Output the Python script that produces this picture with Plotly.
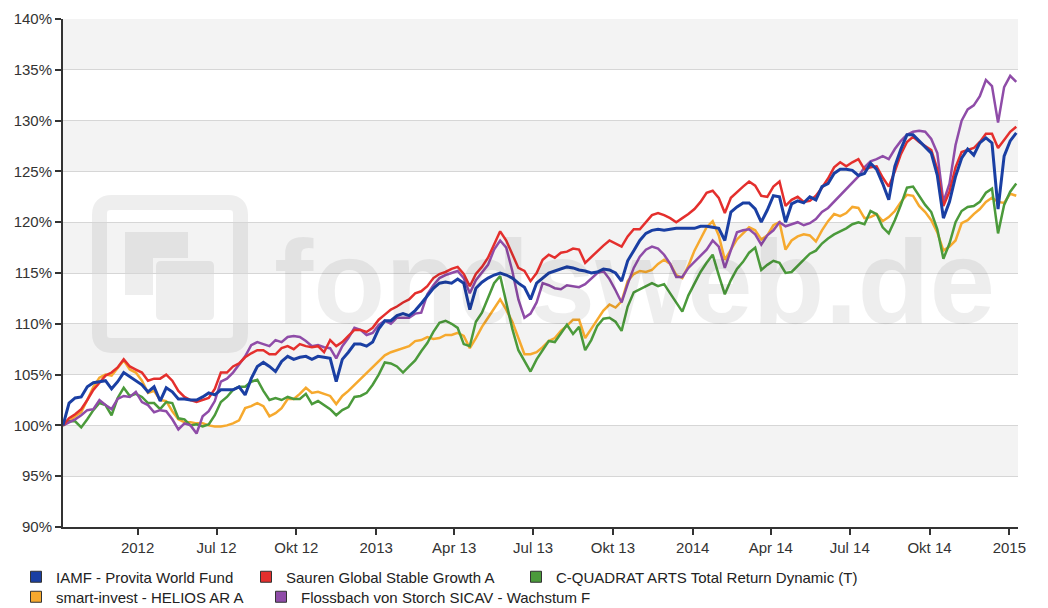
import pandas as pd
import plotly.graph_objects as go

# ---------------- data ----------------
dates = pd.date_range("2012-01-06", periods=158, freq="7D")

names = [
    "IAMF - Provita World Fund",
    "Sauren Global Stable Growth A",
    "C-QUADRAT ARTS Total Return Dynamic (T)",
    "smart-invest - HELIOS AR A",
    "Flossbach von Storch SICAV - Wachstum F",
]

iamf = [
    100.0, 102.2, 102.7, 102.8, 103.8, 104.2, 104.3, 104.4, 103.6, 104.3,
    105.2, 104.8, 104.4, 104.0, 103.3, 103.8, 102.4, 103.7, 103.3, 102.6,
    102.6, 102.5, 102.5, 102.8, 103.2, 103.0, 103.5, 103.5, 103.5, 103.8,
    103.0, 104.6, 105.8, 106.2, 105.8, 105.3, 106.3, 106.8, 106.5, 106.7,
    106.8, 106.5, 106.8, 106.7, 106.6, 104.3, 106.5, 107.2, 108.0, 108.0,
    107.8, 108.2, 109.5, 110.3, 110.3, 110.8, 111.0, 110.8, 111.3, 112.0,
    112.8, 113.5, 114.0, 114.1, 114.0, 114.4, 114.0, 111.4, 113.5, 114.1,
    114.5, 114.8, 115.0, 114.8, 114.5, 114.0, 113.6, 112.4, 114.0, 114.5,
    115.0, 115.2, 115.4, 115.6, 115.5, 115.3, 115.2, 115.0, 115.1, 115.4,
    115.3, 115.0, 114.2, 116.2, 117.2, 118.2, 118.9, 119.2, 119.3, 119.2,
    119.3, 119.4, 119.4, 119.4, 119.4, 119.6, 119.6, 119.5, 119.4, 118.2,
    121.0, 121.5, 121.9, 121.9, 121.3, 120.0, 121.2, 122.6, 122.5, 120.0,
    121.8, 122.1, 121.9, 122.5, 122.2, 123.5, 123.8, 124.8, 125.2, 125.2,
    125.1, 124.6, 124.8, 125.8, 125.2, 123.8, 122.2, 125.5, 127.2, 128.6,
    128.6, 128.0, 127.4, 126.8, 124.6, 120.4, 122.0, 124.5, 126.3, 127.2,
    126.6, 127.8, 128.3, 127.8, 121.3, 126.5, 128.0, 128.8,
]

sauren = [
    100.0, 100.7, 101.1, 101.6, 102.5, 103.5, 104.2, 104.9, 105.2, 105.7,
    106.5, 105.8, 105.5, 105.2, 104.4, 104.6, 104.6, 105.0, 104.4, 103.4,
    102.8, 102.5, 102.3, 102.5, 102.7, 103.6, 105.2, 105.2, 105.8, 106.1,
    106.7, 107.1, 107.4, 107.4, 107.0, 107.0, 107.6, 107.8, 107.5, 108.0,
    107.8, 107.7, 107.8, 107.2, 108.4, 107.8, 108.2, 108.8, 109.4, 109.4,
    109.2, 109.6, 110.4, 110.9, 111.4, 111.7, 112.1, 112.4, 113.0, 113.2,
    113.7, 114.5, 114.9, 115.1, 115.4, 115.6, 114.9, 113.7, 114.9, 115.6,
    116.5, 117.8, 119.1, 118.2, 116.9, 115.5, 115.2, 114.2, 115.0, 116.3,
    116.8, 116.5, 117.0, 117.1, 117.4, 117.3, 116.0, 116.6, 117.1, 117.7,
    118.2, 117.9, 117.6, 118.6, 119.3, 119.3, 120.0, 120.7, 120.9, 120.7,
    120.4, 120.0, 120.4, 120.8, 121.3, 122.0, 122.9, 123.1, 122.4, 120.9,
    122.4, 123.0, 123.5, 124.0, 123.6, 122.6, 122.5, 123.5, 124.0, 121.6,
    122.2, 122.5, 122.0, 122.1, 122.6, 123.4, 124.3, 125.4, 125.9, 125.5,
    125.9, 126.2, 125.2, 125.4, 125.5, 124.4, 123.5, 125.0, 126.7, 127.9,
    128.4, 127.9, 127.5, 127.1, 125.2, 121.6, 123.0, 125.4, 126.9, 127.1,
    127.3, 127.9, 128.7, 128.7, 127.3, 128.1, 128.9, 129.4,
]

cquadrat = [
    100.0, 100.4, 100.4, 99.8, 100.6, 101.5, 102.2, 102.0, 101.0, 102.7,
    103.7, 102.9, 103.1, 102.8, 102.2, 102.2, 101.6, 102.3, 102.2, 100.7,
    100.6, 100.0, 100.1, 99.9, 100.1, 101.0, 102.3, 102.8, 103.5, 103.8,
    103.8, 104.3, 104.5, 103.4, 102.5, 102.7, 102.5, 102.8, 102.6, 102.6,
    103.1, 102.1, 102.4, 102.0, 101.6, 101.0, 101.5, 101.8, 102.8, 102.9,
    103.2, 104.0, 105.0, 106.2, 106.1, 105.8, 105.2, 105.8, 106.4, 107.3,
    108.1, 109.2, 110.1, 110.3, 110.0, 109.6, 108.0, 107.8, 110.2, 111.1,
    112.5, 114.0, 114.7, 112.2, 109.5, 107.4, 106.4, 105.3, 106.5, 107.4,
    108.3, 108.2, 109.1, 109.9, 109.0, 109.7, 107.4, 108.4, 109.8, 110.5,
    110.6, 110.2, 109.3, 111.7, 113.1, 113.4, 113.7, 114.0, 113.7, 113.9,
    113.0, 112.1, 111.2, 112.8, 114.0, 115.1, 116.0, 116.8, 114.8, 112.9,
    114.3, 115.4, 116.1, 117.0, 117.5, 115.3, 115.8, 116.2, 116.0, 115.0,
    115.1, 115.7, 116.4, 116.9, 117.2, 117.9, 118.4, 118.8, 119.1, 119.4,
    119.8, 120.0, 119.8, 121.1, 120.8, 119.5, 118.9, 120.2, 121.7, 123.4,
    123.5, 122.6, 121.7, 121.0, 119.3, 116.4, 117.9, 120.0, 121.1, 121.5,
    121.6, 122.0, 122.9, 123.3, 118.9, 121.7, 123.0, 123.8,
]

smart_invest = [
    100.0, 100.4, 100.9, 101.3, 102.5, 103.8, 104.7, 105.0, 104.9, 105.7,
    106.4, 105.5, 105.2, 104.4, 103.2, 103.4, 102.5, 102.4, 101.4, 100.6,
    100.3, 100.3, 100.2, 100.2, 100.0, 99.9, 99.9, 100.0, 100.2, 100.5,
    101.7, 101.9, 102.2, 101.9, 100.9, 101.2, 101.7, 102.6, 102.6, 103.1,
    103.7, 103.2, 103.3, 103.1, 102.9, 102.1, 102.9, 103.4, 104.0, 104.6,
    105.2, 105.7, 106.3, 106.9, 107.2, 107.4, 107.6, 107.8, 108.3, 108.4,
    108.7, 108.5, 108.6, 108.9, 108.9, 109.1, 108.8, 107.6, 108.6, 109.7,
    110.6, 111.5, 112.4, 111.4, 110.2, 108.6, 107.0, 107.0, 107.2, 107.7,
    108.3, 108.6, 109.3, 109.8, 110.4, 110.4, 108.6, 109.5, 110.4, 111.3,
    111.9, 111.6, 112.2, 114.2, 114.9, 115.2, 115.1, 115.3, 115.9, 116.3,
    115.9, 114.8, 114.5, 115.7, 117.2, 118.4, 119.5, 120.1, 118.7, 116.3,
    117.3, 118.3, 118.9, 119.5, 119.2, 118.3, 118.7, 119.7, 120.0, 117.3,
    118.2, 118.6, 118.8, 118.7, 118.1, 119.2, 120.1, 120.8, 120.6, 120.9,
    121.5, 121.4, 120.4, 120.5, 120.8, 120.1, 120.5, 121.1, 122.0, 122.7,
    122.6, 121.6, 121.0, 120.2, 119.0, 117.2, 117.6, 118.2, 119.9, 120.2,
    120.8, 121.3, 122.0, 122.4, 122.0, 121.9, 122.8, 122.6,
]

flossbach = [
    100.0, 100.3, 100.6, 101.0, 101.5, 101.6, 102.5, 102.0, 101.6, 102.6,
    102.9, 102.8, 103.3, 102.3, 102.0, 101.3, 101.5, 101.4, 100.6, 99.6,
    100.2, 100.0, 99.2, 100.9, 101.4, 102.4, 104.3, 104.6, 105.2, 106.0,
    106.8, 107.9, 108.2, 108.0, 107.8, 108.4, 108.2, 108.7, 108.8, 108.7,
    108.3, 107.8, 107.9, 107.7, 107.6, 106.6, 107.8, 108.6, 109.6, 109.4,
    108.9, 109.1, 109.9, 110.3, 110.0, 110.6, 110.6, 110.6, 111.0, 111.1,
    112.9, 113.8, 114.5, 114.8, 115.0, 115.2, 114.5, 113.0, 114.3, 115.0,
    115.8, 117.3, 118.2, 117.5, 115.2, 112.4, 110.6, 111.0, 112.1, 114.0,
    113.8, 113.5, 113.4, 113.8, 113.7, 113.6, 113.9, 114.5, 115.0, 115.2,
    114.4, 113.3, 112.1, 113.9, 115.5, 116.6, 117.3, 117.6, 117.4, 116.8,
    115.9, 114.6, 114.6, 115.5, 116.1, 116.7, 117.3, 118.2, 117.6, 115.5,
    117.2, 119.0, 119.2, 119.3, 118.8, 117.8, 118.7, 119.2, 120.0, 119.6,
    119.8, 120.0, 119.7, 119.9, 120.3, 121.0, 121.4, 122.0, 122.7, 123.2,
    123.8, 124.5, 125.4, 126.0, 126.2, 126.5, 126.2, 127.2, 128.0, 128.6,
    128.9, 129.0, 128.9, 128.2, 126.8, 122.0, 123.8, 127.6, 130.0, 131.1,
    131.5, 132.4, 134.0, 133.4, 129.8, 133.3, 134.4, 133.8,
]

tick_dates = ["2012-04-01", "2012-07-01", "2012-10-01", "2013-01-01",
              "2013-04-01", "2013-07-01", "2013-10-01", "2014-01-01",
              "2014-04-01", "2014-07-01", "2014-10-01", "2015-01-01"]
tick_labels = ["2012", "Jul 12", "Okt 12", "2013", "Apr 13", "Jul 13",
               "Okt 13", "2014", "Apr 14", "Jul 14", "Okt 14", "2015"]
y_ticks = [90, 95, 100, 105, 110, 115, 120, 125, 130, 135, 140]
y_labels = [f"{v}%" for v in y_ticks]

# ---------------- styling ----------------
# The page body has an 8px margin, so the figure is 1040x600 and offset.
OFF = 8
W, H = 1040, 600
ML, MR, MT, MB = 55, 30, 11, 81
PW, PH = W - ML - MR, H - MT - MB
FONT = "Liberation Sans, Arial, sans-serif"

colors = {
    "iamf": "#1a3fa3",
    "sauren": "#e42f2d",
    "cquadrat": "#4b9a3b",
    "smart": "#f6a92e",
    "floss": "#8f4ca8",
}

series = [  # (key, name, values, legend id, marker center px (page), row y px (page))
    ("iamf", names[0], iamf, "legend", 35, 577),
    ("sauren", names[1], sauren, "legend2", 265, 577),
    ("cquadrat", names[2], cquadrat, "legend3", 535, 577),
    ("smart", names[3], smart_invest, "legend4", 35, 597),
    ("floss", names[4], flossbach, "legend5", 280, 597),
]
draw_order = ["smart", "cquadrat", "floss", "sauren", "iamf"]

fig = go.Figure()

by_key = {s[0]: s for s in series}
for key in draw_order:
    k, name, vals, lg, _, _ = by_key[key]
    fig.add_trace(go.Scatter(
        x=dates, y=vals, mode="lines", name=name,
        line=dict(color=colors[k], width=3 if k == "iamf" else 2.5),
        showlegend=False, legendgroup=k, hoverinfo="skip",
    ))

legends = {}
for k, name, vals, lg, mx, my in series:
    fig.add_trace(go.Scatter(
        x=[None], y=[None], mode="markers", name=name, legend=lg,
        legendgroup=k,
        marker=dict(symbol="square", size=11, color=colors[k],
                    line=dict(color="#333333", width=1)),
    ))
    legends[lg] = dict(
        orientation="h", xref="container", yref="container",
        x=(mx - OFF - 19) / W, y=1 - (my - OFF) / H,
        xanchor="left", yanchor="middle",
        bgcolor="rgba(0,0,0,0)", borderwidth=0,
        font=dict(family=FONT, size=15, color="#222222"),
    )


def px_x(px):  # page px -> paper
    return (px - OFF - ML) / PW


def px_y(py):
    return (MT + PH - (py - OFF)) / PH


def rrect(x0, y0, x1, y1, r):
    a, b, c, d = px_x(x0), px_x(x1), px_y(y0), px_y(y1)
    rx, ry = r / PW, r / PH
    return (f"M {a+rx},{c} L {b-rx},{c} Q {b},{c} {b},{c-ry} "
            f"L {b},{d+ry} Q {b},{d} {b-rx},{d} L {a+rx},{d} "
            f"Q {a},{d} {a},{d+ry} L {a},{c-ry} Q {a},{c} {a+rx},{c} Z")


def poly(pts):
    return "M " + " L ".join(f"{px_x(x)},{px_y(y)}" for x, y in pts) + " Z"


shapes = []
# alternating background bands
for lo in range(95, 140, 10):
    shapes.append(dict(type="rect", xref="paper", yref="y", x0=0, x1=1,
                       y0=lo, y1=lo + 5, fillcolor="#f3f3f3",
                       line=dict(width=0), layer="below"))
# watermark logo
wm = "rgba(0,0,0,0.065)"
shapes.append(dict(type="path", xref="paper", yref="paper",
                   path=rrect(99.5, 202.5, 240.5, 345.5, 12),
                   line=dict(color=wm, width=15), layer="below"))
shapes.append(dict(type="path", xref="paper", yref="paper",
                   path=poly([(125, 232), (188, 232), (188, 258), (153, 258),
                              (153, 295), (125, 295)]),
                   fillcolor=wm, line=dict(width=0), layer="below"))
shapes.append(dict(type="path", xref="paper", yref="paper",
                   path=rrect(156, 261, 214, 320, 5),
                   fillcolor=wm, line=dict(width=0), layer="below"))

annotations = [dict(
    text="fondsweb.de", xref="paper", yref="paper",
    x=px_x(272), y=px_y(282), xanchor="left", yanchor="middle",
    showarrow=False,
    font=dict(family=FONT, size=118, weight="bold", color="rgba(0,0,0,0.065)"),
)]

fig.update_layout(
    width=W, height=H,
    margin=dict(l=ML, r=MR, t=MT, b=MB, autoexpand=False),
    paper_bgcolor="white", plot_bgcolor="white",
    font=dict(family=FONT, size=15, color="#333333"),
    shapes=shapes, annotations=annotations,
    hovermode=False,
    **legends,
)

fig.update_xaxes(
    type="date", range=["2012-01-06", "2015-01-11"],
    tickmode="array", tickvals=tick_dates, ticktext=tick_labels,
    showgrid=False, zeroline=False,
    showline=True, linecolor="#333333", linewidth=2,
    ticks="outside", ticklen=6, tickwidth=1.5, tickcolor="#333333",
    tickfont=dict(family=FONT, size=15, color="#333333"),
)
fig.update_yaxes(
    range=[90, 140], tickmode="array", tickvals=y_ticks, ticktext=y_labels,
    showgrid=True, gridcolor="#d6d6d6", gridwidth=1,
    zeroline=False, showline=True, linecolor="#333333", linewidth=2,
    ticks="outside", ticklen=6, tickwidth=1.5, tickcolor="#333333",
    tickfont=dict(family=FONT, size=15, color="#333333"),
)

fig.write_html("out.html")
